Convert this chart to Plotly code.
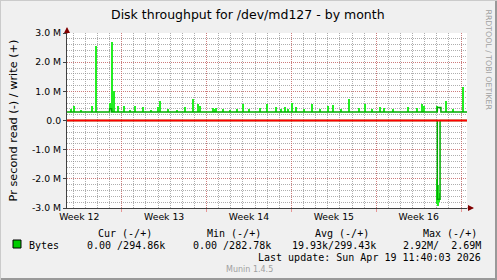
import plotly.graph_objects as go
import numpy as np
import pandas as pd

# ---------------- data ----------------
title = "Disk throughput for /dev/md127 - by month"
range_start = "2026-03-17 11:40"
range_end = "2026-04-19 11:40"

week_labels = ["Week 12", "Week 13", "Week 14", "Week 15", "Week 16"]
week_label_times = ["2026-03-18 12:00", "2026-03-25 12:00", "2026-04-01 12:00",
                    "2026-04-08 12:00", "2026-04-15 12:00"]
week_starts = ["2026-03-15", "2026-03-22", "2026-03-29", "2026-04-05",
               "2026-04-12", "2026-04-19"]

y_tick_vals = [-3e6, -2e6, -1e6, 0, 1e6, 2e6, 3e6]
y_tick_text = ["-3.0 M", "-2.0 M", "-1.0 M", "0.0", "1.0 M", "2.0 M", "3.0 M"]

# average write (+) line, step shape
write_avg_times = ["2026-03-17 11:40", "2026-03-21 00:00", "2026-03-21 04:00",
                   "2026-04-17 00:50", "2026-04-17 08:00", "2026-04-19 11:40"]
write_avg_vals = [295e3, 400e3, 295e3, 450e3, 295e3, 295e3]

# average read (-) line, step shape
read_avg_times = ["2026-03-17 11:40", "2026-04-17 00:50", "2026-04-17 06:20",
                  "2026-04-19 11:40"]
read_avg_vals = [0, -2.70e6, 0, 0]

# peak write spikes
write_spike_times = [
    "2026-03-17 20:00", "2026-03-18 01:30", "2026-03-18 16:00", "2026-03-19 12:35",
    "2026-03-19 20:30", "2026-03-21 00:45", "2026-03-21 05:45", "2026-03-21 08:20",
    "2026-03-21 17:15", "2026-03-22 05:05", "2026-03-22 17:00", "2026-03-23 02:55",
    "2026-03-23 18:45", "2026-03-24 10:00", "2026-03-25 00:25", "2026-03-25 04:20",
    "2026-03-25 20:00", "2026-03-26 14:00", "2026-03-27 05:55", "2026-03-27 21:45",
    "2026-03-28 07:05", "2026-03-28 11:00", "2026-03-29 12:45", "2026-03-29 15:00",
    "2026-03-29 18:40", "2026-03-30 08:35", "2026-03-30 22:00", "2026-03-31 11:40",
    "2026-04-01 00:45", "2026-04-01 12:00", "2026-04-02 09:50", "2026-04-02 23:05",
    "2026-04-03 16:55", "2026-04-04 04:00", "2026-04-04 11:55", "2026-04-04 17:15",
    "2026-04-05 02:10", "2026-04-05 10:05", "2026-04-06 02:00", "2026-04-06 17:20",
    "2026-04-07 08:00", "2026-04-07 23:50", "2026-04-08 09:45", "2026-04-09 02:00",
    "2026-04-09 18:40", "2026-04-10 14:30", "2026-04-11 02:15", "2026-04-11 16:00",
    "2026-04-12 07:30", "2026-04-12 15:20", "2026-04-13 10:00", "2026-04-14 14:15",
    "2026-04-15 09:15", "2026-04-15 19:10", "2026-04-15 22:35", "2026-04-16 23:40",
    "2026-04-17 17:35", "2026-04-18 08:00", "2026-04-19 04:20"]
write_spike_peaks = [
    380e3, 510e3, 360e3, 510e3,
    2.56e6, 600e3, 2.69e6, 1.0e6,
    510e3, 510e3, 360e3, 500e3,
    450e3, 360e3, 450e3, 680e3,
    380e3, 360e3, 450e3, 740e3,
    550e3, 500e3, 430e3, 400e3,
    430e3, 400e3, 360e3, 400e3,
    550e3, 380e3, 430e3, 570e3,
    450e3, 380e3, 450e3, 400e3,
    600e3, 450e3, 380e3, 550e3,
    400e3, 500e3, 530e3, 380e3,
    740e3, 430e3, 550e3, 380e3,
    450e3, 430e3, 380e3, 450e3,
    430e3, 550e3, 500e3, 500e3,
    680e3, 400e3, 1.14e6]

# peak read spikes (band low/high)
read_spike_times = ["2026-04-17 01:00", "2026-04-17 03:00", "2026-04-17 05:00"]
read_spike_hi = [-2.0e6, -2.2e6, -2.5e6]
read_spike_lo = [-2.85e6, -2.92e6, -2.80e6]

legend_headers = ["Cur (-/+)", "Min (-/+)", "Avg (-/+)", "Max (-/+)"]
legend_values = ["0.00 /294.86k", "0.00 /282.78k", "19.93k/299.43k", "2.92M/  2.69M"]
series_name = "Bytes"
last_update = "Last update: Sun Apr 19 11:40:03 2026"
footer = "Munin 1.4.5"
side_text = "RRDTOOL / TOBI OETIKER"

# ---------------- styling ----------------
W, H = 497, 280
PL, PR, PT, PB = 67, 467, 33, 208  # plot area pixel box
BG = "#F0F0F0"
CANVAS = "#FFFFFF"
BRIGHT = "#22EE22"
DARK = "#00AA00"
GRID = "rgba(130,130,130,0.65)"
MGRID = "rgba(225,90,90,0.6)"
SANS = "DejaVu Sans"
MONO = "DejaVu Sans Mono"


def px(x):
    return (x - PL) / (PR - PL)


def py(y):
    return (PB - y) / (PB - PT)


fig = go.Figure()

# step lookup of write average at spike times, used as spike base
wa_t = pd.to_datetime(write_avg_times)
ws_t = pd.to_datetime(write_spike_times)
idx = np.searchsorted(wa_t.values, ws_t.values, side="right") - 1
w_base = np.array(write_avg_vals)[idx]
bar_w = 2.5 * 3600 * 1000

fig.add_trace(go.Bar(x=write_spike_times, y=np.array(write_spike_peaks) - w_base,
                     base=w_base, width=bar_w, marker=dict(color=BRIGHT, line=dict(width=0)),
                     hoverinfo="skip"))
fig.add_trace(go.Bar(x=read_spike_times,
                     y=np.array(read_spike_lo) - np.array(read_spike_hi),
                     base=read_spike_hi, width=bar_w,
                     marker=dict(color=BRIGHT, line=dict(width=0)), hoverinfo="skip"))
fig.add_trace(go.Scatter(x=write_avg_times, y=write_avg_vals, mode="lines",
                         line=dict(color=DARK, width=1.5, shape="hv"), hoverinfo="skip"))
fig.add_trace(go.Scatter(x=read_avg_times, y=read_avg_vals, mode="lines",
                         line=dict(color=DARK, width=1.5, shape="hv"), hoverinfo="skip"))
# zero rule
fig.add_trace(go.Scatter(x=[range_start, range_end], y=[0, 0], mode="lines",
                         line=dict(color="#FF0000", width=2), hoverinfo="skip"))
# dummy trace for label axis
fig.add_trace(go.Scatter(x=[range_start], y=[None], xaxis="x2", mode="lines",
                         hoverinfo="skip"))

fig.update_layout(
    width=W, height=H,
    margin=dict(l=PL, r=W - PR, t=PT, b=H - PB, pad=0),
    paper_bgcolor=BG, plot_bgcolor=CANVAS,
    showlegend=False, barmode="overlay", bargap=0,
    font=dict(family=SANS, color="#000000"),
    xaxis=dict(type="date", range=[range_start, range_end],
               tickmode="array", tickvals=week_starts, showticklabels=False,
               showgrid=True, gridcolor=MGRID, griddash="1px,1px", gridwidth=1,
               ticks="outside", ticklen=3, tickcolor=MGRID,
               showline=True, linecolor="#404040", linewidth=1,
               zeroline=False,
               minor=dict(dtick=86400000, tick0="2026-03-15", showgrid=True,
                          gridcolor=GRID, griddash="1px,1px", gridwidth=1)),
    xaxis2=dict(type="date", range=[range_start, range_end], overlaying="x",
                anchor="y", side="bottom", tickmode="array",
                tickvals=week_label_times, ticktext=week_labels,
                showgrid=False, ticks="", showline=False, zeroline=False,
                ticklabelstandoff=2,
                tickfont=dict(family=SANS, size=9.3, color="#000000")),
    yaxis=dict(range=[-3e6, 3e6], tickmode="array", tickvals=y_tick_vals,
               ticktext=y_tick_text, tickfont=dict(family=SANS, size=9.3),
               showgrid=True, gridcolor=MGRID, griddash="1px,1px", gridwidth=1,
               ticks="outside", ticklen=3, tickcolor="#404040",
               showline=True, linecolor="#404040", linewidth=1, zeroline=False,
               minor=dict(dtick=2e5, tick0=0, showgrid=True, gridcolor=GRID,
                          griddash="1px,1px", gridwidth=1),
               title=dict(text="Pr second read (-) / write (+)",
                          font=dict(family=SANS, size=11.3), standoff=12)),
)

ann = []
ann.append(dict(text=title, x=px(248), y=py(14), xref="paper", yref="paper",
                showarrow=False, font=dict(family=SANS, size=12.5), xanchor="center",
                yanchor="middle"))
ann.append(dict(text=side_text, x=px(488), y=py(7), xref="paper", yref="paper",
                showarrow=False, textangle=90, font=dict(family=SANS, size=7.8, color="#A0A0A0"),
                xanchor="center", yanchor="top"))
# arrows
ann.append(dict(text="", x=px(PL), y=py(27), xref="paper", yref="paper", ax=0, ay=8,
                showarrow=True, arrowhead=2, arrowsize=1, arrowwidth=1.2, arrowcolor="#800000"))
ann.append(dict(text="", x=px(474), y=py(PB), xref="paper", yref="paper", ax=-8, ay=0,
                showarrow=True, arrowhead=2, arrowsize=1, arrowwidth=1.2, arrowcolor="#800000"))

header_x = [125, 233.5, 342, 449.5]
for h, xc in zip(legend_headers, header_x):
    ann.append(dict(text=h, x=px(xc), y=py(233), xref="paper", yref="paper",
                    showarrow=False, font=dict(family=MONO, size=10), xanchor="center",
                    yanchor="middle"))
ann.append(dict(text=series_name, x=px(27), y=py(245), xref="paper", yref="paper",
                showarrow=False, font=dict(family=MONO, size=10), xanchor="left",
                yanchor="middle"))
value_right = [167, 273, 378, 483]
for v, xr in zip(legend_values, value_right):
    ann.append(dict(text=v.replace(" ", "&nbsp;"), x=px(xr), y=py(245), xref="paper",
                    yref="paper", showarrow=False, font=dict(family=MONO, size=10),
                    xanchor="right", yanchor="middle"))
ann.append(dict(text=last_update.replace(" ", "&nbsp;"), x=px(483), y=py(257),
                xref="paper", yref="paper", showarrow=False,
                font=dict(family=MONO, size=10), xanchor="right", yanchor="middle"))
ann.append(dict(text=footer, x=px(249), y=py(269), xref="paper", yref="paper",
                showarrow=False, font=dict(family=SANS, size=8, color="#A0A0A0"),
                xanchor="center", yanchor="middle"))
fig.update_layout(annotations=ann)

shapes = [
    dict(type="rect", xref="paper", yref="paper", x0=px(13), x1=px(21), y0=py(248), y1=py(240),
         fillcolor="#00CC00", line=dict(color="#000000", width=1)),
    dict(type="line", xref="paper", yref="paper", x0=px(0), x1=px(W), y0=py(H - 1), y1=py(H - 1),
         line=dict(color="#999999", width=2)),
    dict(type="line", xref="paper", yref="paper", x0=px(W - 1), x1=px(W - 1), y0=py(0), y1=py(H),
         line=dict(color="#999999", width=2)),
    dict(type="line", xref="paper", yref="paper", x0=px(0), x1=px(W), y0=py(0.5), y1=py(0.5),
         line=dict(color="#CBCBCB", width=1)),
    dict(type="line", xref="paper", yref="paper", x0=px(0.5), x1=px(0.5), y0=py(0), y1=py(H),
         line=dict(color="#CBCBCB", width=1)),
]
fig.update_layout(shapes=shapes)

fig.write_html("out.html")
